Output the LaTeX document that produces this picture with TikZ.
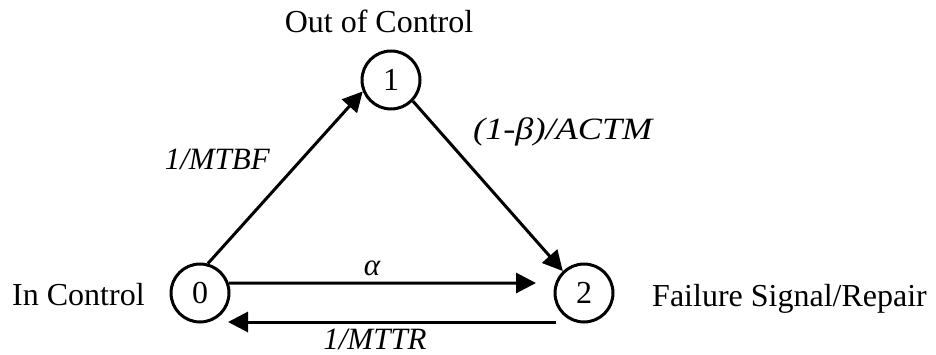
\documentclass[tikz,border=0pt]{standalone}
\usepackage{fontspec}
\setmainfont{Liberation Serif}
\usetikzlibrary{arrows.meta}
\begin{document}
\begin{tikzpicture}[x=1pt,y=-1pt,
  state/.style={circle,draw,line width=3pt,minimum size=58pt,inner sep=0pt,
    font=\fontsize{32}{36}\selectfont},
  lbl/.style={inner sep=0pt,font=\fontsize{32}{36}\selectfont},
  elbl/.style={inner sep=0pt,font=\fontsize{31}{34}\selectfont\itshape},
  conn/.style={line width=3pt,-{Triangle[length=20pt,width=20pt]}}]
\useasboundingbox (0,0) rectangle (936,355);
\node[state] (n0) at (200,293) {0};
\node[state] (n1) at (391,80) {1};
\node[state] (n2) at (584,293) {2};
\node[lbl,anchor=base] (t1) at (379,33) {Out of Control};
\node[lbl,anchor=base west] (t0) at (12,305) {In Control};
\node[lbl,anchor=base west] (t2) at (652,306) {Failure Signal/Repair};
\coordinate (a2) at (536,283);
\coordinate (b2) at (556,322);
\coordinate (b0) at (228,322);
\draw[conn] (n0.75) -- (n1.202);
\draw[conn] (n1.-44) -- (n2.134);
\draw[conn] (n0.19) -- (a2);
\draw[conn] (b2) -- (b0);
\node[elbl,anchor=base east] (l01) at (270,170) {1/MTBF};
\node[elbl,anchor=base west] (l12) at (473,140) {\scalebox{1.17}[1]{(1-β)/ACTM}};
\node[elbl,anchor=base] (l02) at (372,275) {α};
\node[elbl,anchor=base] (l20) at (375,349) {1/MTTR};
\end{tikzpicture}
\end{document}
